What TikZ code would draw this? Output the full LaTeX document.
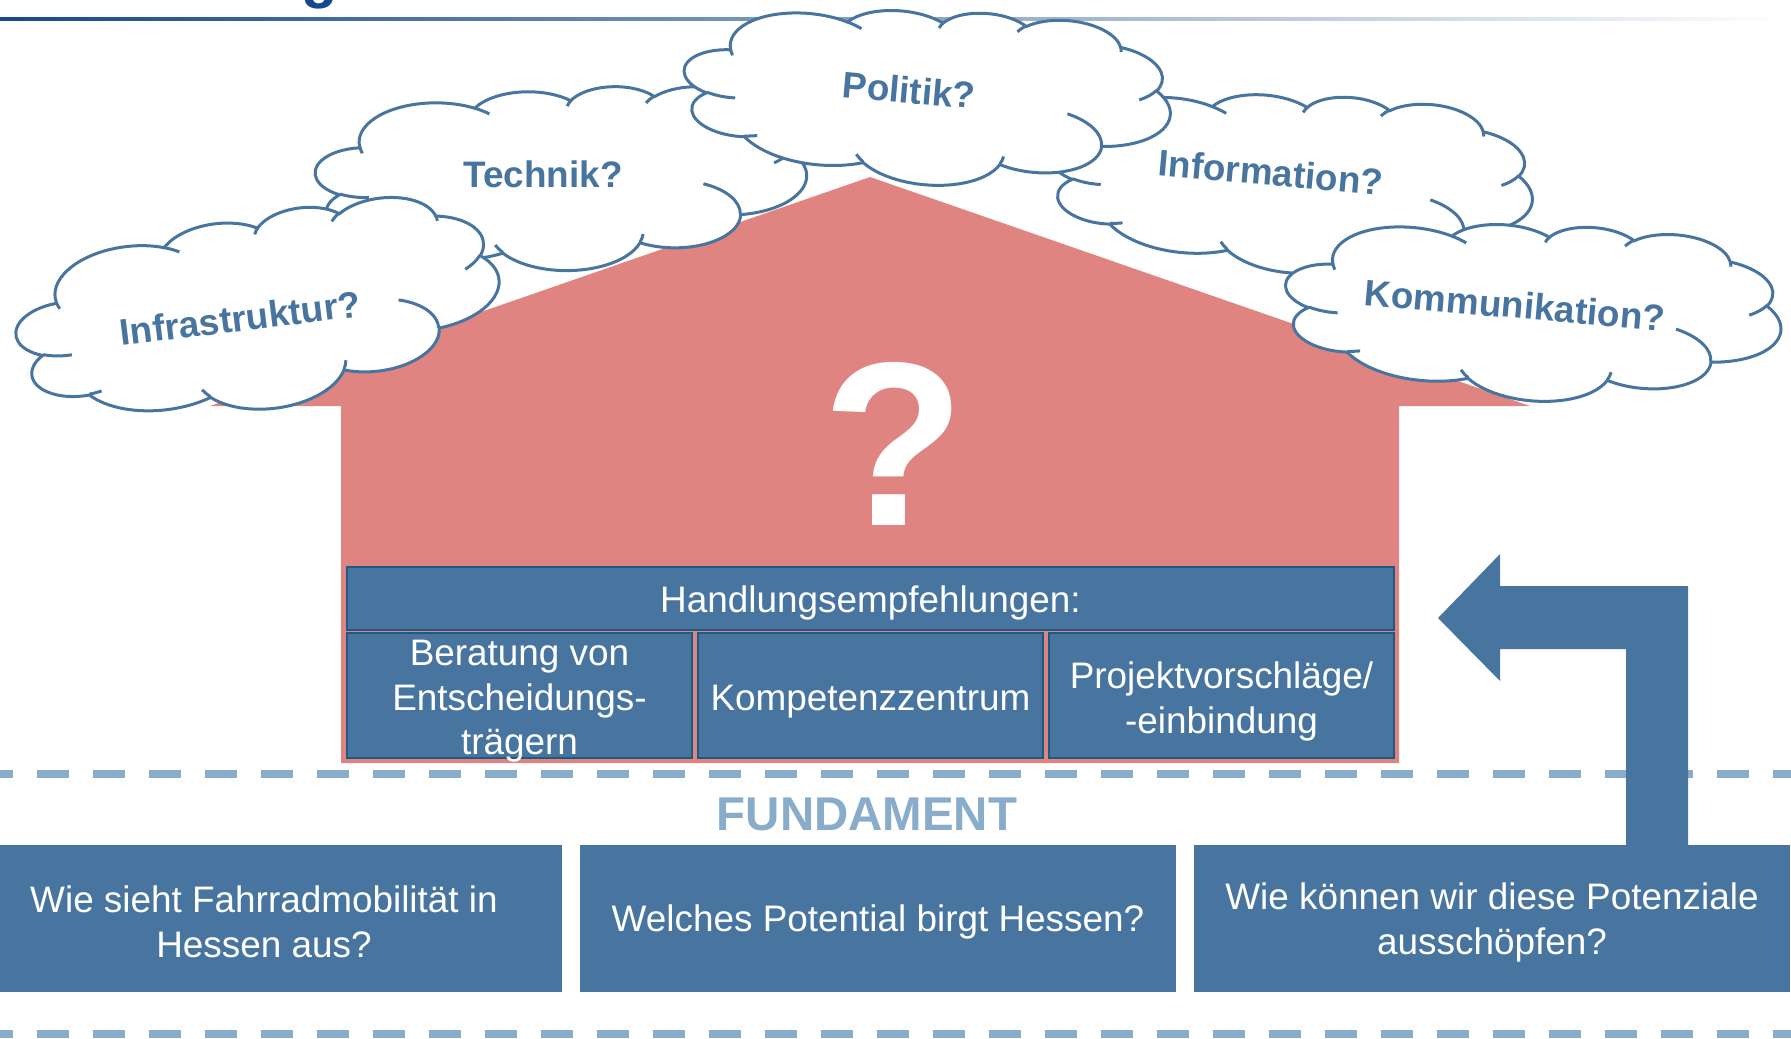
\documentclass[tikz,border=0pt]{standalone}
\usepackage{fontspec}
\setmainfont{Liberation Sans}
\definecolor{boxblue}{RGB}{72,117,160}
\definecolor{boxedge}{RGB}{28,90,130}
\definecolor{housepink}{RGB}{224,132,130}
\definecolor{dashblue}{RGB}{138,172,203}
\definecolor{navy}{RGB}{22,72,140}
% cloud outline in a 432x432 box: #1 centre, #2 width px, #3 height px, #4 rotation
\newcommand{\pptcloud}[4]{%
  \pgfmathsetmacro\cxu{#2*0.02/432}\pgfmathsetmacro\cyu{#3*0.02/432}%
  \begin{scope}[shift={#1},rotate=#4,x=\cxu cm,y=-\cyu cm,shift={(-216,-216)}]
  \path[cloudline,fill=white] (39,143.7)
    foreach \a/\b/\s/\d in {67.53/91.90/-190.4875/123.7805,53.33/72.67/-144.1024/89.9452,
      43.65/59.45/-145.8079/99.7230,48.57/65.95/-130.9861/117.2417,53.33/72.73/-78.7089/109.0269,
      67.75/92.20/-46.2673/130.2690,57.85/78.67/0.6250/114.0333,67.52/92.15/22.4516/115.1726,
      77.20/105.43/66.2426/75.7110,43.60/59.18/-274.9421/146.7356,43.45/59.45/-246.8285/152.5189}{
      \pgfextra{\pgfmathsetmacro\tA{atan2(\a*sin(\s),\b*cos(\s))}%
        \pgfmathsetmacro\tB{atan2(\a*sin(\s+\d),\b*cos(\s+\d))}%
        \pgfmathsetmacro\tD{mod(\tB-\tA+720,360)}}
      arc[start angle=\tA,delta angle=\tD,x radius=\a,y radius=\b]} -- cycle;
  \path[cloudline]
    foreach \px/\py/\a/\b/\s/\d in {46.93/261.77/43.45/59.45/86.7420/26.4295,69.28/348.99/43.60/59.18/73.6105/11.4475,
      164.78/390.90/67.52/92.15/137.6242/14.0811,288.27/347.51/67.52/92.15/6.4533/15.9984,
      341.29/229.54/57.85/78.67/-70.2924/70.9174,417.98/153.54/53.33/72.73/30.3180/27.7515,
      383.24/54.26/48.57/65.95/-13.7443/14.8633,290.78/39.52/48.57/65.95/-149.1815/18.1959,
      221.41/47.20/43.65/59.45/-163.4943/17.6874,140.00/51.92/67.53/91.90/-66.7070/12.3194,
      41.27/157.89/67.53/91.90/157.6544/11.8582}{
      (\px,\py) \pgfextra{\pgfmathsetmacro\tA{atan2(\a*sin(\s),\b*cos(\s))}%
        \pgfmathsetmacro\tB{atan2(\a*sin(\s+\d),\b*cos(\s+\d))}%
        \pgfmathsetmacro\tD{mod(\tB-\tA+720,360)}}
      arc[start angle=\tA,delta angle=\tD,x radius=\a,y radius=\b]};
  \end{scope}}
\begin{document}
\begin{tikzpicture}[x=0.02cm,y=-0.02cm,
  cloudline/.style={draw=boxblue,line width=0.06cm},
  puffText/.style={font=\fontsize{21}{25}\selectfont\bfseries,text=boxblue},
  hbox/.style={draw=boxedge,line width=0.04cm,fill=boxblue,inner sep=0pt},
  fbox/.style={fill=boxblue,inner sep=0pt,minimum width=11.92cm,minimum height=2.94cm},
  boxText/.style={text=white,align=center,font=\fontsize{21}{25.3}\selectfont,yshift=-0.12cm},
  dashline/.style={dashblue,line width=0.16cm,dash pattern=on 0.64cm off 0.48cm}]
\useasboundingbox (0,0) rectangle (1791,1038);
% header rule and cut title
\shade[left color=navy,right color=white] (0,17) rectangle (1791,20);
\node[font=\fontsize{34}{34}\selectfont\bfseries,text=navy,anchor=base] (title-g) at (320,-4) {g};
% house
\fill[housepink] (210,406) -- (870,177) -- (1530,406) -- (1399,406) -- (1399,763) -- (341,763) -- (341,406) -- cycle;
\node[font=\fontsize{133}{133}\selectfont\bfseries,text=white] (qmark) at (894,444) {?};
\node[hbox,minimum width=20.94cm,minimum height=1.26cm] (handlung) at (870.5,598.5) {};
\node[boxText,yshift=0.03cm] (handlung-lab) at (handlung) {Handlungsempfehlungen:};
\foreach \lab [count=\i from 0] in {{Beratung von\\Entscheidungs-\\trägern},{Kompetenzzentrum},{Projektvorschläge/\\-einbindung}}{
  \node[hbox,minimum width=6.9cm,minimum height=2.5cm] (h\i) at (519.5+351*\i,695.5) {};
  \node[boxText] (h\i-lab) at (h\i) {\lab};}
% foundation
\draw[dashline] (-19,773.5) -- (1810,773.5);
\draw[dashline] (-19,1034) -- (1810,1034);
\node[font=\fontsize{27}{27}\selectfont\bfseries,text=dashblue] (fundament) at (867,814) {FUNDAMENT};
\foreach \lab [count=\i from 0] in {{Wie sieht Fahrradmobilität in\\Hessen aus?},{Welches Potential birgt Hessen?},{Wie können wir diese Potenziale\\ausschöpfen?}}{
  \node[fbox] (f\i) at (264+614*\i,918.5) {};
  \node[boxText,font=\fontsize{21}{25.6}\selectfont,yshift=0.05cm] (f\i-lab) at (f\i) {\lab};}
\fill[boxblue] (1626,846) -- (1626,649) -- (1500,649) -- (1500,681) -- (1438,618) -- (1500,554) -- (1500,586) -- (1688,586) -- (1688,846) -- cycle;
% clouds over the roof
\foreach \nm/\lab/\cx/\cy/\tx/\ty/\w/\h/\r in {
  technik/Technik?/561/178/543/174/491/184/0,
  information/Information?/1291/182/1271/172/484/180/-5,
  politik/Politik?/927/96/909/90/488/176/-5,
  infra/Infrastruktur?/258/311/240/318/486/196/7,
  kommunikation/Kommunikation?/1533/311/1515/305/497/178/-5}{
  \pptcloud{(\cx,\cy)}{\w}{\h}{\r}
  \node[puffText,rotate=\r] (\nm-lab) at (\tx,\ty) {\lab};}
\end{tikzpicture}
\end{document}
